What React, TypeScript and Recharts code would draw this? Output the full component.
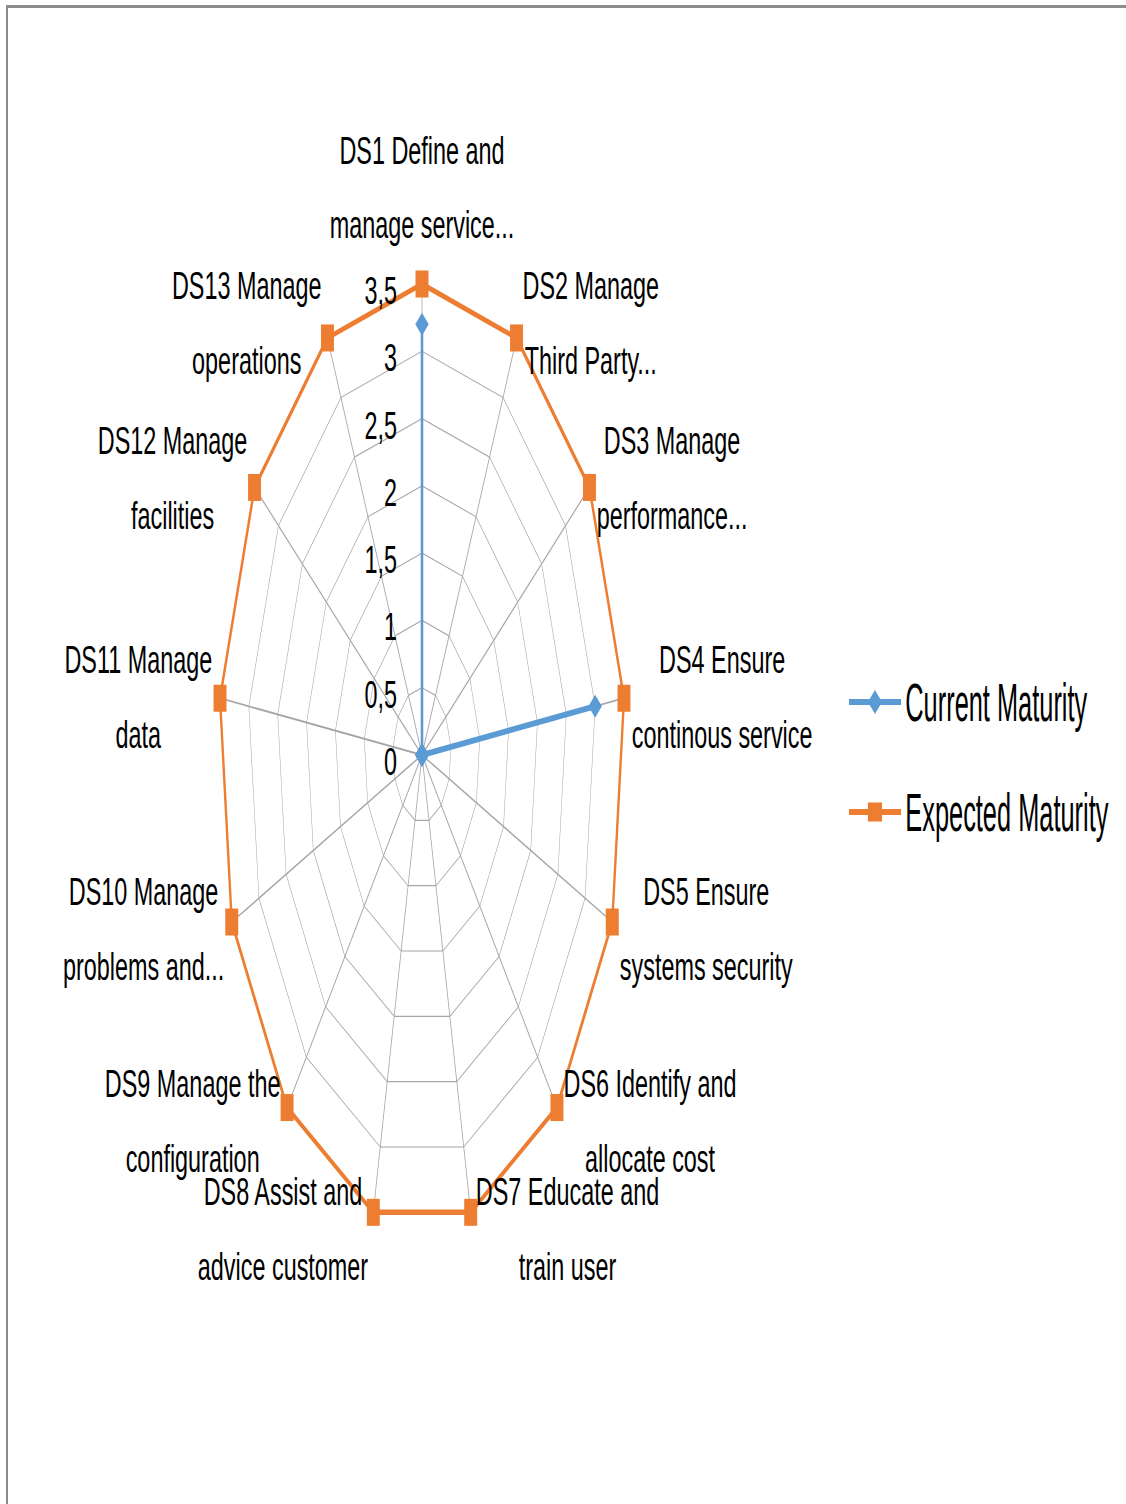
import React from "react";
import {
  RadarChart,
  Radar,
  PolarGrid,
  PolarAngleAxis,
  PolarRadiusAxis,
  Legend,
} from "recharts";

// category labels, already wrapped the way the chart shows them
const CATEGORY_LINES: string[][] = [
  ["DS1 Define and", "manage service..."],
  ["DS2 Manage", "Third Party..."],
  ["DS3 Manage", "performance..."],
  ["DS4 Ensure", "continous service"],
  ["DS5 Ensure", "systems security"],
  ["DS6 Identify and", "allocate cost"],
  ["DS7 Educate and", "train user"],
  ["DS8 Assist and", "advice customer"],
  ["DS9 Manage the", "configuration"],
  ["DS10 Manage", "problems and..."],
  ["DS11 Manage", "data"],
  ["DS12 Manage", "facilities"],
  ["DS13 Manage", "operations"],
];
const CATEGORIES = CATEGORY_LINES.map((l) => l.join(" "));

const CURRENT_MATURITY = [3.2, 0, 0, 3, 0, 0, 0, 0, 0, 0, 0, 0, 0];
const EXPECTED_MATURITY = [3.5, 3.5, 3.5, 3.5, 3.5, 3.5, 3.5, 3.5, 3.5, 3.5, 3.5, 3.5, 3.5];
const RADIUS_TICKS = [0, 0.5, 1, 1.5, 2, 2.5, 3, 3.5];

const data = CATEGORIES.map((name, i) => ({
  name,
  current: CURRENT_MATURITY[i],
  expected: EXPECTED_MATURITY[i],
}));

// the picture is squeezed sideways, so the whole chart is drawn wide and scaled down
const SX = 0.432;
const LABEL_SX = 0.6 / SX;
const LEGEND_SX = 0.47 / SX;
const W = Math.round(1126 / SX);
const H = 1504;
const CX = 422 / SX;
const CY = 755;
const R = 471; // radius of the 3,5 ring
// recharts rounds the radius domain up to 4 here, so the chart radius is widened to keep 3,5 at R
const DOMAIN_MAX = 4;
const R_OUT = (R * DOMAIN_MAX) / 3.5;

const FONT = '"Liberation Sans", Arial, sans-serif';
const LABEL_SIZE = 39;
const LINE_H = 75;
const BLUE = "#5b9bd5";
const ORANGE = "#ed7d31";
const GRID = "#a6a6a6";

let ctx: CanvasRenderingContext2D | null = null;
function textWidth(t: string, size: number) {
  if (!ctx) ctx = document.createElement("canvas").getContext("2d");
  if (!ctx) return t.length * size * 0.5;
  ctx.font = `${size}px ${FONT}`;
  return ctx.measureText(t).width;
}

function AngleTick(props: any) {
  const { textAnchor, payload } = props;
  // pull the tick point back in to just outside the 3,5 ring
  const k = (R + 8) / (R_OUT + 8);
  const x = CX + (props.x - CX) * k;
  const y = CY + (props.y - CY) * k;
  let idx = CATEGORIES.indexOf(payload?.value);
  if (idx < 0) idx = props.index ?? 0;
  const lines = CATEGORY_LINES[idx];
  const blockW = Math.max(...lines.map((t) => textWidth(t, LABEL_SIZE))) * LABEL_SX;
  const gap = 10;
  let bx = x;
  let by: number;
  if (textAnchor === "middle") {
    by = y - 87;
  } else {
    by = y + 2 + (9 * (y - CY)) / (R + 8);
    bx = textAnchor === "start" ? x + gap + blockW / 2 : x - gap - blockW / 2;
  }
  const top = by - ((lines.length - 1) * LINE_H) / 2;
  return (
    <g transform={`translate(${bx},${top}) scale(${LABEL_SX},1)`}>
      {lines.map((t, i) => (
        <text
          key={i}
          x={0}
          y={i * LINE_H + 12}
          textAnchor="middle"
          fontFamily={FONT}
          fontSize={LABEL_SIZE}
          fill="#000"
        >
          {t}
        </text>
      ))}
    </g>
  );
}

function RadiusTick(props: any) {
  const { x, y, payload } = props;
  return (
    <g transform={`translate(${x - 58},${y + 20}) scale(${LABEL_SX},1)`}>
      <text textAnchor="end" fontFamily={FONT} fontSize={LABEL_SIZE} fill="#000">
        {String(payload.value).replace(".", ",")}
      </text>
    </g>
  );
}

const diamondDot = (p: any) => (
  <polygon
    key={`cur-${p.index}`}
    points={`${p.cx},${p.cy - 11.5} ${p.cx + 15.5},${p.cy} ${p.cx},${p.cy + 11.5} ${p.cx - 15.5},${p.cy}`}
    fill={BLUE}
  />
);

const squareDot = (p: any) => (
  <rect
    key={`exp-${p.index}`}
    x={p.cx - 15}
    y={p.cy - 13.5}
    width={30}
    height={27}
    fill={ORANGE}
  />
);

function LegendContent(props: any) {
  const items = props.payload || [];
  return (
    <div style={{ transform: `scaleX(${LEGEND_SX})`, transformOrigin: "0 0" }}>
      {items.map((item: any, i: number) => (
        <div key={item.value} style={{ display: "flex", alignItems: "center", height: 110 }}>
          <svg width={111} height={30} style={{ display: "block" }}>
            <line x1={0} y1={15} x2={111} y2={15} stroke={item.color} strokeWidth={6} />
            {i === 0 ? (
              <polygon points="55.5,3 70.5,15 55.5,27 40.5,15" fill={item.color} />
            ) : (
              <rect x={40.5} y={5.5} width={30} height={19} fill={item.color} />
            )}
          </svg>
          <span
            style={{
              fontFamily: FONT,
              fontSize: 54,
              lineHeight: "54px",
              marginLeft: 9,
              color: "#000",
              whiteSpace: "nowrap",
            }}
          >
            {item.value}
          </span>
        </div>
      ))}
    </div>
  );
}

// spokes run out to R_OUT; a dash of length R stops them at the 3,5 ring
const css = `
.radar-wrap .recharts-surface line,
.radar-wrap .recharts-surface path,
.radar-wrap .recharts-surface polygon { vector-effect: non-scaling-stroke; }
.radar-wrap .recharts-polar-grid-angle line {
  vector-effect: none;
  stroke-dasharray: ${R} 100000;
  stroke-width: 1.8px;
}
`;

export default function App() {
  return (
    <div
      style={{
        position: "absolute",
        left: 0,
        top: 0,
        width: 1126,
        height: 1504,
        overflow: "hidden",
        background: "#fff",
      }}
    >
      <style>{css}</style>
      <div
        style={{
          position: "absolute",
          left: 6,
          top: 5,
          width: 1120,
          height: 1499,
          borderTop: "3px solid #8c8c8c",
          borderLeft: "2px solid #8c8c8c",
        }}
      />
      <div
        className="radar-wrap"
        style={{
          position: "absolute",
          left: 0,
          top: 0,
          width: W,
          height: H,
          transform: `scaleX(${SX})`,
          transformOrigin: "0 0",
        }}
      >
        <RadarChart
          width={W}
          height={H}
          data={data}
          cx={CX}
          cy={CY}
          outerRadius={R_OUT}
          margin={{ top: 0, right: 0, bottom: 0, left: 0 }}
        >
          <PolarGrid gridType="polygon" stroke={GRID} strokeWidth={1.2} />
          <PolarAngleAxis dataKey="name" tick={AngleTick} tickLine={false} axisLine={false} />
          <PolarRadiusAxis
            angle={90}
            type="number"
            domain={[0, DOMAIN_MAX]}
            ticks={RADIUS_TICKS}
            axisLine={false}
            tickLine={false}
            tick={RadiusTick}
          />
          <Radar
            name="Current Maturity"
            dataKey="current"
            stroke={BLUE}
            strokeWidth={6}
            fill="none"
            fillOpacity={0}
            dot={diamondDot}
            isAnimationActive={false}
          />
          <Radar
            name="Expected Maturity"
            dataKey="expected"
            stroke={ORANGE}
            strokeWidth={5.5}
            fill="none"
            fillOpacity={0}
            dot={squareDot}
            isAnimationActive={false}
          />
          <Legend
            layout="vertical"
            verticalAlign="top"
            align="left"
            content={LegendContent}
            wrapperStyle={{ left: 849 / SX, top: 646.5, right: "auto", bottom: "auto", width: "auto" }}
          />
        </RadarChart>
      </div>
    </div>
  );
}
